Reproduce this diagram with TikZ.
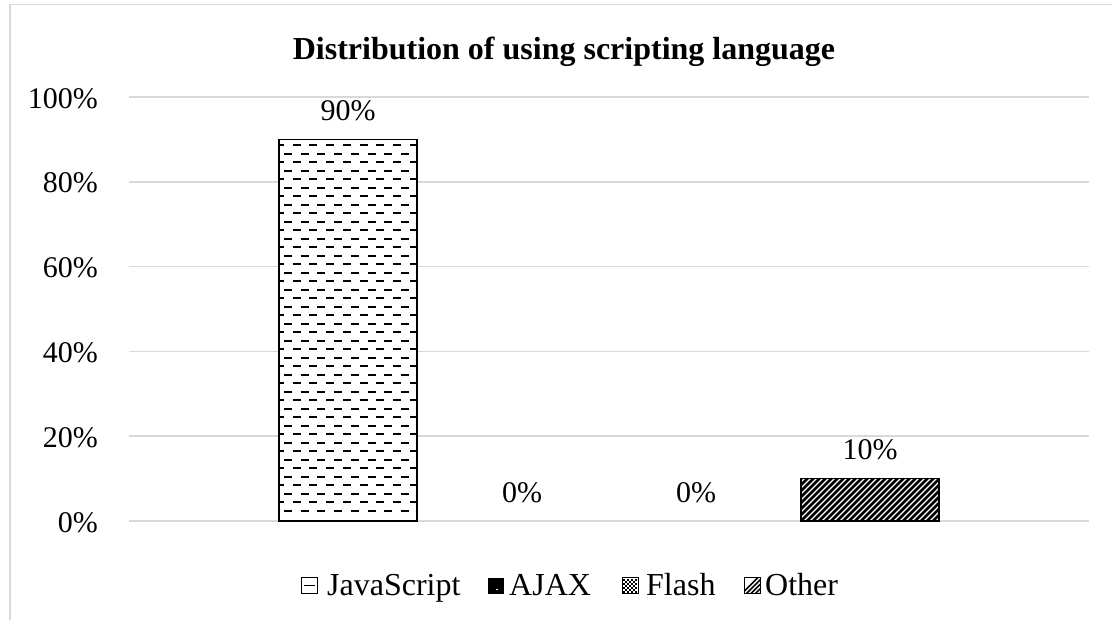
\documentclass[tikz,border=0pt]{standalone}
\usepackage{fontspec}
\setmainfont{Liberation Serif}
\definecolor{gridgray}{HTML}{D9D9D9}
\tikzset{
  chartframe/.style={draw=gridgray, line width=1.5pt},
  gridline/.style={draw=gridgray, line width=1.5pt},
  barframe/.style={draw=black, line width=1.4pt},
  axislabel/.style={anchor=base east, inner sep=0pt, font=\fontsize{30}{36}\selectfont},
  valuelabel/.style={anchor=base, inner sep=0pt, font=\fontsize{30}{36}\selectfont},
  legendtext/.style={anchor=base west, inner sep=0pt, font=\fontsize{32}{38}\selectfont},
  charttitle/.style={anchor=base, inner sep=0pt, font=\bfseries\fontsize{32}{38}\selectfont},
  keybox/.style={draw=black, line width=0.9pt},
}
\begin{document}
\begin{tikzpicture}[x=1pt,y=-1pt]
\useasboundingbox (0,0) rectangle (1112,619);
\clip (0,0) rectangle (1112,619);

% chart area border
\draw[chartframe] (10,4.5) rectangle (1130,640);

% title
\node[charttitle] (title) at (564,59) {Distribution of using scripting language};

% horizontal grid lines and value-axis labels
\foreach \v in {0,20,40,60,80,100} {
  \pgfmathsetmacro{\gy}{521-4.24*\v}
  \draw[gridline] (129,\gy) -- (1089,\gy);
  \node[axislabel] (ax\v) at (98,\gy+11) {\v\%};
}

% JavaScript bar: dashed horizontal pattern
\fill[white] (279,139.4) rectangle (417,521);
\begin{scope}
  \clip (279,139.4) rectangle (417,521);
  \foreach \k in {0,...,21} {
    \draw[line width=1.1pt, dash pattern=on 8pt off 8.7pt] (276,145+17*\k) -- (430,145+17*\k);
    \draw[line width=2pt, dash pattern=on 8pt off 8.7pt] (267.3,153.5+17*\k) -- (430,153.5+17*\k);
  }
\end{scope}
\draw[barframe] (279,139.4) rectangle (417,521);

% Other bar: wide upward diagonal pattern
\fill[white] (801,478.6) rectangle (939,521);
\begin{scope}
  \clip (801,478.6) rectangle (939,521);
  \foreach \k in {0,...,32} {
    \draw[line width=2.5pt] (750+6*\k,530) -- (810+6*\k,470);
  }
\end{scope}
\draw[barframe] (801,478.6) rectangle (939,521);

% data labels
\node[valuelabel] (lbljs) at (348,120.5) {90\%};
\node[valuelabel] (lblajax) at (522,502) {0\%};
\node[valuelabel] (lblflash) at (696,502) {0\%};
\node[valuelabel] (lblother) at (870,459.5) {10\%};

% legend
% JavaScript key
\fill[white] (301,577.5) rectangle (317,593.5);
\draw[keybox] (301,577.5) rectangle (317,593.5);
\draw[line width=1.3pt] (303.5,585.5) -- (314.5,585.5);
\node[legendtext] (legjs) at (327,595) {JavaScript};
% AJAX key
\fill[black] (488,577.5) rectangle (504,593.5);
\fill[white] (496,588.5) rectangle (497.6,590.1);
\node[legendtext] (legajax) at (509,595) {AJAX};
% Flash key
\fill[white] (622,577.5) rectangle (638,593.5);
\foreach \a in {0,...,6} {
  \foreach \b in {0,...,6} {
    \pgfmathtruncatemacro{\cellparity}{mod(\a+\b,2)}
    \ifnum\cellparity=0
      \fill[black] (623+2*\a,578.5+2*\b) rectangle ++(2,2);
    \fi
  }
}
\draw[keybox] (622,577.5) rectangle (638,593.5);
\node[legendtext] (legflash) at (646,595) {Flash};
% Other key
\fill[white] (744,577.5) rectangle (760,593.5);
\begin{scope}
  \clip (744,577.5) rectangle (760,593.5);
  \foreach \k in {0,...,7} {
    \draw[line width=1.6pt] (738+4.5*\k,597.5) -- (758+4.5*\k,577.5);
  }
\end{scope}
\draw[keybox] (744,577.5) rectangle (760,593.5);
\node[legendtext] (legother) at (765,595) {Other};
\end{tikzpicture}
\end{document}
